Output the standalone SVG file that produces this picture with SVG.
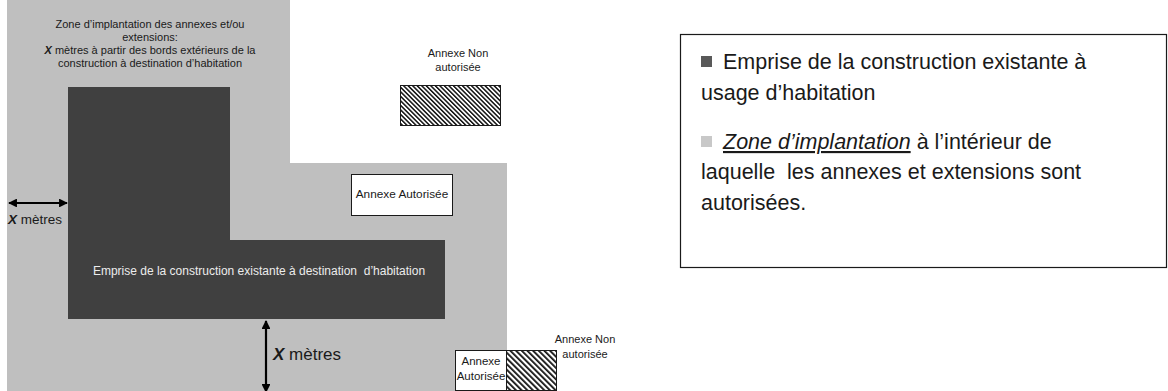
<svg xmlns="http://www.w3.org/2000/svg" width="1168" height="391" viewBox="0 0 1168 391">
<defs>
<style>
.t{font-family:"Liberation Sans",Arial,sans-serif;fill:#1a1a1a;white-space:pre}
.s{font-size:11px}
.lg{font-size:21.5px}
.box{fill:#fff;stroke:#1a1a1a;stroke-width:1}
.arr{stroke:#000;stroke-width:2.2;fill:none;marker-start:url(#ah);marker-end:url(#ah)}
</style>
<pattern id="hatch" patternUnits="userSpaceOnUse" width="3.2" height="3.2" patternTransform="rotate(-45)">
<rect width="3.2" height="3.2" fill="#fff"/>
<rect width="1.5" height="3.2" fill="#111"/>
</pattern>
<pattern id="hatch2" patternUnits="userSpaceOnUse" width="4" height="4" patternTransform="rotate(-45)">
<rect width="4" height="4" fill="#fff"/>
<rect width="1.8" height="4" fill="#111"/>
</pattern>
<marker id="ah" viewBox="0 0 10 10" refX="9" refY="5" markerWidth="4" markerHeight="4" orient="auto-start-reverse" markerUnits="strokeWidth">
<path d="M0,0 L10,5 L0,10 z" fill="#000"/>
</marker>
</defs>
<g id="zone">
<path d="M7,0 H290 V163 H507 V391 H7 Z" fill="#bfbfbf"/>
<text class="t s" text-anchor="middle"><tspan x="150" y="28">Zone d’implantation des annexes et/ou</tspan><tspan x="150" y="41">extensions:</tspan><tspan x="150" y="54"><tspan font-weight="bold" font-style="italic">X</tspan> mètres à partir des bords extérieurs de la</tspan><tspan x="150" y="67">construction à destination d’habitation</tspan></text>
</g>
<g id="construction">
<path d="M68,87 H230 V240 H445 V319 H68 Z" fill="#404040"/>
<text class="t" x="259" y="275" font-size="12px" text-anchor="middle" style="fill:#ececec">Emprise de la construction existante à destination  d’habitation</text>
</g>
<g id="annexe-non-1">
<text class="t s" text-anchor="middle"><tspan x="458" y="57">Annexe Non</tspan><tspan x="458" y="71">autorisée</tspan></text>
<rect x="400.5" y="85.5" width="100" height="40" fill="url(#hatch)" stroke="#1a1a1a"/>
</g>
<g id="annexe-aut-1">
<rect class="box" x="351.5" y="174.5" width="101" height="41"/>
<text class="t" x="402" y="198" font-size="11.8px" text-anchor="middle">Annexe Autorisée</text>
</g>
<g id="annexe-aut-2">
<rect class="box" x="455.5" y="350.5" width="51" height="40"/>
<text class="t" font-size="11.5px" text-anchor="middle"><tspan x="481" y="365">Annexe</tspan><tspan x="481" y="380">Autorisée</tspan></text>
</g>
<g id="annexe-non-2">
<rect x="506.5" y="350.5" width="50" height="40" fill="url(#hatch2)" stroke="#1a1a1a"/>
<text class="t s" text-anchor="middle"><tspan x="585" y="343">Annexe Non</tspan><tspan x="585" y="358">autorisée</tspan></text>
</g>
<g id="connectors">
<line class="arr" x1="9" y1="203" x2="67" y2="203"/>
<line class="arr" x1="266" y1="321" x2="266" y2="392"/>
</g>
<g id="dim-labels">
<text class="t" x="8" y="224" font-size="13.5px"><tspan font-weight="bold" font-style="italic">X</tspan> mètres</text>
<text class="t" x="273" y="360" font-size="17px"><tspan font-weight="bold" font-style="italic">X</tspan> mètres</text>
</g>
<g id="legend">
<rect x="680.5" y="34.5" width="486" height="233" fill="#fff" stroke="#1a1a1a" stroke-width="1.2"/>
<rect x="701" y="56" width="11" height="11" fill="#595959"/>
<text class="t lg" x="723" y="69">Emprise de la construction existante à</text>
<text class="t lg" x="701" y="100">usage d’habitation</text>
<rect x="701" y="136" width="11" height="11" fill="#c8c8c8"/>
<text class="t lg" x="723" y="149"><tspan font-style="italic" text-decoration="underline">Zone d’implantation</tspan> à l’intérieur de</text>
<text class="t lg" x="701" y="179">laquelle  les annexes et extensions sont</text>
<text class="t lg" x="701" y="210">autorisées.</text>
</g>
</svg>
